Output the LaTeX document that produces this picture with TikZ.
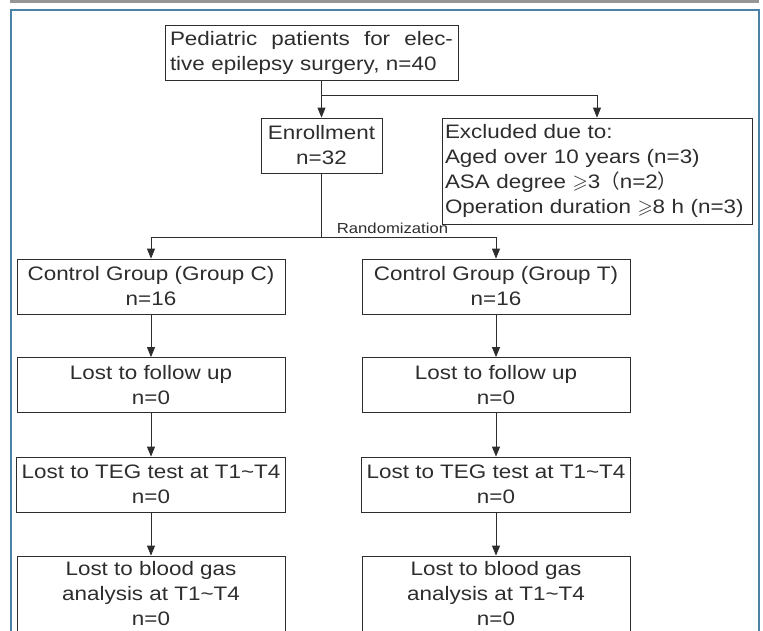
\documentclass[tikz,border=0pt]{standalone}
\usepackage{fontspec}
\usepackage{amssymb}
\setmainfont{Liberation Sans}[FakeStretch=1.15]
\newfontfamily\cjk{Noto Sans CJK SC}
\usetikzlibrary{arrows.meta,positioning}

\definecolor{rulegray}{RGB}{150,150,150}
\definecolor{frameblue}{RGB}{74,130,170}
\definecolor{boxline}{RGB}{45,45,45}
\newcommand{\boxfont}{\fontsize{19.5}{25}\selectfont}
\newcommand{\randfont}{\fontsize{14.5}{16}\selectfont}

\begin{document}
\begin{tikzpicture}[
    x=1pt, y=-1pt,
    every node/.style={font=\boxfont, text=boxline},
    box/.style={
        rectangle,
        draw=boxline,
        line width=0.8pt,
        inner xsep=5pt,
        inner ysep=0pt,
        minimum height=55pt,
        align=center
    },
    link/.style={
        draw=boxline,
        line width=0.8pt
    },
    flow/.style={
        link,
        -{Triangle[length=10pt,width=8pt]}
    }
]
\useasboundingbox (0,0) rectangle (763,630);

% Cornice
\draw[rulegray, line width=2.5pt] (10,1.5) -- (759,1.5);
\draw[frameblue, line width=1.5pt] (11,640) -- (11,10) -- (759,10) -- (759,640);

% Reclutamento
\node[box, minimum width=293pt, text width=283pt, align=left] (patients) at (311.5,52.5)
    {Pediatric\hfill patients\hfill for\hfill elec-\\tive epilepsy surgery, n=40};
\node[box, minimum width=121pt] (enroll) at (321.5,145.5) {Enrollment\\n=32};
\node[box, minimum width=310pt, minimum height=106pt, text width=304pt, inner xsep=3pt, align=left] (excl) at (597,171)
    {Excluded due to:\\
     Aged over 10 years (n=3)\\
     ASA degree $\geqslant$3{\cjk （}n=2{\cjk ）}\\
     Operation duration $\geqslant$8 h (n=3)};

% Gruppi
\node[box, minimum width=268pt] (groupC) at (151,286.5) {Control Group (Group C)\\n=16};
\node[box, minimum width=268pt] (groupT) at (496,286.5) {Control Group (Group T)\\n=16};

\node[box, minimum width=268pt] (followC) at (151,385) {Lost to follow up\\n=0};
\node[box, minimum width=268pt] (followT) at (496,385) {Lost to follow up\\n=0};

\node[box, minimum width=268pt] (tegC) at (151,484.5) {Lost to TEG test at T1\textasciitilde T4\\n=0};
\node[box, minimum width=268pt] (tegT) at (496,484.5) {Lost to TEG test at T1\textasciitilde T4\\n=0};

\node[box, minimum width=268pt, minimum height=76pt] (gasC) at (151,594)
    {Lost to blood gas\\analysis at T1\textasciitilde T4\\n=0};
\node[box, minimum width=268pt, minimum height=76pt] (gasT) at (496,594)
    {Lost to blood gas\\analysis at T1\textasciitilde T4\\n=0};

% Collegamenti
\coordinate (split) at (321.5,95);
\coordinate (rsplit) at (321.5,237);
\draw[flow] (patients.south -| enroll.north) -- (enroll.north);
\draw[flow] (split) -| (excl.north);
\draw[link] (enroll.south) -- (rsplit)
    node[anchor=base west, font=\randfont, inner sep=0pt, xshift=15pt, yshift=4pt] (rand) {Randomization};
\draw[flow] (rsplit) -| (groupC.north);
\draw[flow] (rsplit) -| (groupT.north);

\draw[flow] (groupC) -- (followC);
\draw[flow] (groupT) -- (followT);
\draw[flow] (followC) -- (tegC);
\draw[flow] (followT) -- (tegT);
\draw[flow] (tegC) -- (gasC);
\draw[flow] (tegT) -- (gasT);

\end{tikzpicture}
\end{document}
